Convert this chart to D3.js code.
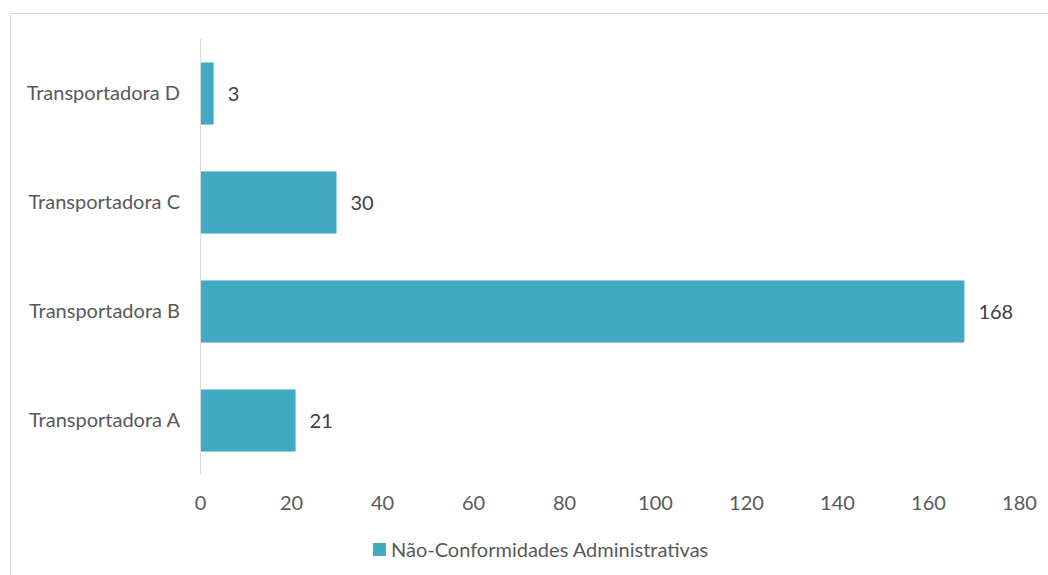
<!DOCTYPE html>
<html>
<head>
<meta charset="utf-8">
<script src="https://cdn.jsdelivr.net/npm/d3@7"></script>
<style>
  body { margin: 0; background: #fff; }
  svg { display: block; font-family: Lato, "Open Sans", sans-serif; }
</style>
</head>
<body>
<div id="chart"></div>
<script>
const categories = ["Transportadora A", "Transportadora B", "Transportadora C", "Transportadora D"]
const values = [21, 168, 30, 3]
const ticks = [0, 20, 40, 60, 80, 100, 120, 140, 160, 180]
const seriesName = "Não-Conformidades Administrativas"

const width = 1048, height = 575
const barColor = "#42a9c3"
const textColor = "#595959"
const font = "Lato, 'Open Sans', sans-serif"

const svg = d3.select("#chart").append("svg")
    .attr("width", width)
    .attr("height", height)

// chart frame (right and bottom edges fall outside the picture)
svg.append("rect")
    .attr("x", 10.5).attr("y", 13.5)
    .attr("width", 1045).attr("height", 570)
    .attr("fill", "none")
    .attr("stroke", "#d9d9d9")

const x = d3.scaleLinear().domain([0, 180]).range([200, 1019])
// top-to-bottom order is D, C, B, A
const y = d3.scaleBand().domain(categories.slice().reverse()).range([39, 475]).paddingInner(0.43).paddingOuter(0.215)

svg.append("g")
  .selectAll("rect")
  .data(categories)
  .join("rect")
    .attr("x", x(0))
    .attr("y", d => y(d))
    .attr("width", (d, i) => x(values[i]) - x(0))
    .attr("height", y.bandwidth())
    .attr("fill", barColor)

// value labels
svg.append("g")
  .selectAll("text")
  .data(categories)
  .join("text")
    .attr("x", (d, i) => x(values[i]) + 14)
    .attr("y", d => y(d) + y.bandwidth() / 2)
    .attr("dy", "0.35em")
    .attr("font-size", 20)
    .attr("fill", "#404040")
    .text((d, i) => values[i])

// category axis
const yAxis = svg.append("g")
    .attr("transform", `translate(${x(0)},0)`)
    .call(d3.axisLeft(y).tickSize(0).tickPadding(20))
yAxis.select(".domain").attr("stroke", "#d9d9d9").attr("d", `M0.5,39V475`)
yAxis.selectAll("text").attr("font-size", 20).attr("fill", textColor).attr("font-family", font)

// value axis (labels only)
const xAxis = svg.append("g")
    .attr("transform", "translate(0,494)")
    .call(d3.axisBottom(x).tickValues(ticks).tickSize(0).tickPadding(2))
xAxis.select(".domain").remove()
xAxis.selectAll("text").attr("font-size", 20).attr("fill", textColor).attr("font-family", font)

// legend
const legend = svg.append("g").attr("transform", "translate(373,550)")
legend.append("rect")
    .attr("x", 0).attr("y", -7)
    .attr("width", 13).attr("height", 13)
    .attr("fill", barColor)
legend.append("text")
    .attr("x", 18)
    .attr("dy", "0.35em")
    .attr("font-size", 20)
    .attr("fill", textColor)
    .text(seriesName)
</script>
</body>
</html>
